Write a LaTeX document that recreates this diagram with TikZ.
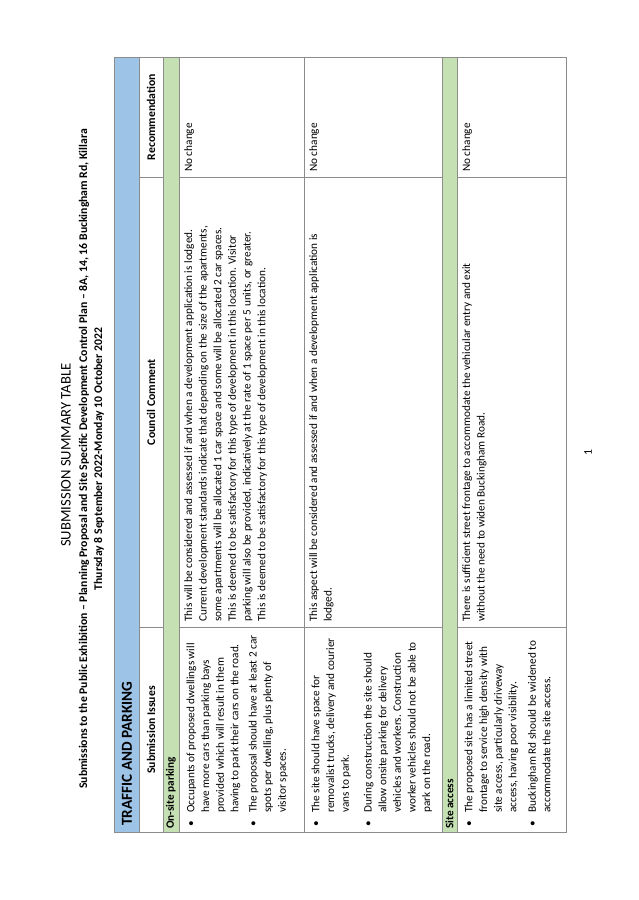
\documentclass[tikz,border=0pt]{standalone}
\usepackage{fontspec}
\setmainfont{Carlito}
\usepackage{tikz}
\usetikzlibrary{positioning}
\definecolor{hdrblue}{HTML}{9DC3E6}
\definecolor{secgreen}{HTML}{C5E0B3}
\definecolor{rulegray}{HTML}{8C8C8C}
\newlength{\px}\setlength{\px}{0.03cm}
\newcommand{\bul}[1]{\makebox[14\px][l]{\textbullet}\begin{tabular}[t]{@{}l@{}}#1\end{tabular}}

\begin{document}
\begin{tikzpicture}[x=0.03cm, y=-0.03cm,
    cell/.style={rotate=90, anchor=north west, inner sep=0pt, align=left, font=\fontsize{9.6}{12.5}\selectfont},
    head/.style={rotate=90, inner sep=0pt, font=\fontsize{10}{12}\selectfont\bfseries},
    grid/.style={draw=rulegray, line width=0.5pt}
]
\useasboundingbox (0,0) rectangle (638,900);

% Title
\node[rotate=90, font=\fontsize{12.5}{14}\selectfont] (title) at (66,455) {SUBMISSION SUMMARY TABLE};
\node[rotate=90, font=\fontsize{10}{12}\selectfont\bfseries] (subtitle) at (84,459) {Submissions to the Public Exhibition -- Planning Proposal and Site Specific Development Control Plan -- 8A, 14, 16 Buckingham Rd, Killara};
\node[rotate=90, font=\fontsize{10}{12}\selectfont\bfseries] (dates) at (99,459) {Thursday 8 September 2022-Monday 10 October 2022};

% Bands
\fill[hdrblue] (114,57) rectangle (139,832);
\fill[secgreen] (163,57) rectangle (179,832);
\fill[secgreen] (442,57) rectangle (457,832);

% Grid
\draw[grid] (114,57) rectangle (566,832);
\foreach \r in {139,163,179,304,442,457} \draw[grid] (\r,57) -- (\r,832);
\foreach \c in {627,177} {
  \draw[grid] (139,\c) -- (163,\c);
  \draw[grid] (179,\c) -- (442,\c);
  \draw[grid] (457,\c) -- (566,\c);
}

% Headings
\node[head, anchor=west, font=\fontsize{13}{15}\selectfont\bfseries] (traffic) at (127,826) {TRAFFIC AND PARKING};
\node[head] (issues) at (151,730) {Submission Issues};
\node[head] (comment) at (151,402) {Council Comment};
\node[head] (recomm) at (151,117) {Recommendation};
\node[head, anchor=west, font=\fontsize{9.6}{12}\selectfont\bfseries] (onsite) at (171,829) {On-site parking};
\node[head, anchor=west, font=\fontsize{9.6}{12}\selectfont\bfseries] (access) at (449.5,829) {Site access};

% On-site parking, first row
\node[cell] (issA) at (184,827) {\bul{Occupants of proposed dwellings will\\have more cars than parking bays\\provided which will result in them\\having to park their cars on the road.}\\[2pt]
  \bul{The proposal should have at least 2 car\\spots per dwelling, plus plenty of\\visitor spaces.}};
\node[cell] (comA) at (184,622) {This will be considered and assessed if and when a development application is lodged.\\
  Current development standards indicate that depending on the size of the apartments,\\
  some apartments will be allocated 1 car space and some will be allocated 2 car spaces.\\
  This is deemed to be satisfactory for this type of development in this location. Visitor\\
  parking will also be provided, indicatively at the rate of 1 space per 5 units, or greater.\\
  This is deemed to be satisfactory for this type of development in this location.};
\node[cell] (recA) at (184,172) {No change};

% On-site parking, second row
\node[cell] (issB) at (309,827) {\bul{The site should have space for\\removalist trucks, delivery and courier\\vans to park.}\\[6pt]
  \bul{During construction the site should\\allow onsite parking for delivery\\vehicles and workers. Construction\\worker vehicles should not be able to\\park on the road.}};
\node[cell] (comB) at (309,622) {This aspect will be considered and assessed if and when a development application is\\lodged.};
\node[cell] (recB) at (309,172) {No change};

% Site access
\node[cell] (issC) at (462,827) {\bul{The proposed site has a limited street\\frontage to service high density with\\site access, particularly driveway\\access, having poor visibility.}\\[3pt]
  \bul{Buckingham Rd should be widened to\\accommodate the site access.}};
\node[cell] (comC) at (462,622) {There is sufficient street frontage to accommodate the vehicular entry and exit\\without the need to widen Buckingham Road.};
\node[cell] (recC) at (462,172) {No change};

% Page number
\node[rotate=90, font=\fontsize{10}{12}\selectfont] (pagenum) at (588,453) {1};
\end{tikzpicture}
\end{document}
